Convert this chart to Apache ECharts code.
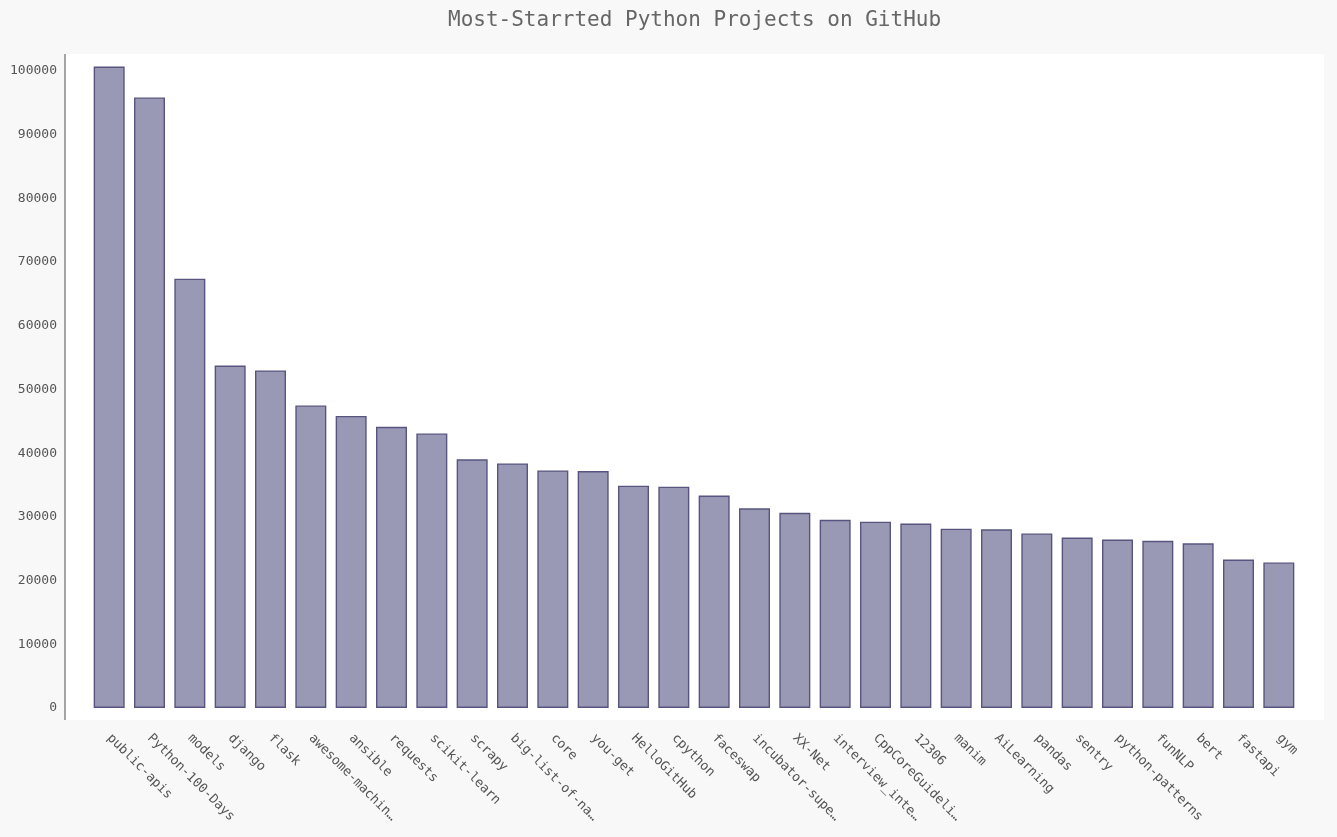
<!DOCTYPE html>
<html>
<head>
<meta charset="utf-8">
<script src="https://cdn.jsdelivr.net/npm/echarts@6/dist/echarts.min.js"></script>
<style>
  html, body { margin: 0; padding: 0; background: #f8f8f8; }
  #chart { width: 1337px; height: 837px; }
</style>
</head>
<body>
<div id="chart"></div>
<script>
// 数据
const repoNames = [
  'public-apis', 'Python-100-Days', 'models', 'django', 'flask',
  'awesome-machine-learning', 'ansible', 'requests', 'scikit-learn', 'scrapy',
  'big-list-of-naughty-strings', 'core', 'you-get', 'HelloGitHub', 'cpython',
  'faceswap', 'incubator-superset', 'XX-Net', 'interview_internal_reference', 'CppCoreGuidelines',
  '12306', 'manim', 'AiLearning', 'pandas', 'sentry',
  'python-patterns', 'funNLP', 'bert', 'fastapi', 'gym',
]
const stars = [
  100700, 95850, 67400, 53750, 53000,
  47500, 45850, 44150, 43100, 39050,
  38400, 37300, 37200, 34900, 34750,
  33350, 31350, 30650, 29550, 29250,
  28950, 28150, 28050, 27400, 26750,
  26450, 26250, 25850, 23300, 22850,
]
const yTicks = { min: 0, max: 100000, step: 10000 }

const mono = '"DejaVu Sans Mono", "Liberation Mono", monospace'
const chart = echarts.init(document.getElementById('chart'))

const option = {
  backgroundColor: '#f8f8f8',
  animation: false,
  title: {
    text: 'Most-Starrted Python Projects on GitHub',
    left: 443,
    top: 5,
    textStyle: { fontFamily: mono, fontSize: 21, fontWeight: 'normal', color: '#666' },
  },
  // 白色绘图区和左侧轴线
  graphic: [
    { type: 'rect', z: -10, shape: { x: 65, y: 54, width: 1259, height: 666 }, style: { fill: '#ffffff' } },
    { type: 'line', z: 10, shape: { x1: 65, y1: 54, x2: 65, y2: 720 }, style: { stroke: '#888', lineWidth: 1.5 } },
  ],
  grid: { left: 89, right: 38, top: 71, bottom: 129 },
  xAxis: {
    type: 'category',
    data: repoNames,
    axisLine: { show: false },
    axisTick: { show: false },
    axisLabel: {
      interval: 0,
      rotate: -45,
      margin: 28,
      fontFamily: mono,
      fontSize: 13,
      color: '#555',
      formatter: (v) => (v.length > 15 ? v.slice(0, 14) + '…' : v),
    },
  },
  yAxis: {
    type: 'value',
    min: yTicks.min,
    max: yTicks.max,
    interval: yTicks.step,
    offset: 24,
    axisLine: { show: false },
    axisTick: { show: false },
    splitLine: { show: false },
    axisLabel: { margin: 8, fontFamily: mono, fontSize: 13, color: '#555', formatter: (v) => String(v) },
  },
  series: [
    {
      type: 'bar',
      data: stars,
      barWidth: 31,
      clip: false,
      itemStyle: { color: '#9a99b5', borderColor: '#57557f', borderWidth: 1.4 },
    },
  ],
}

chart.setOption(option)
</script>
</body>
</html>
